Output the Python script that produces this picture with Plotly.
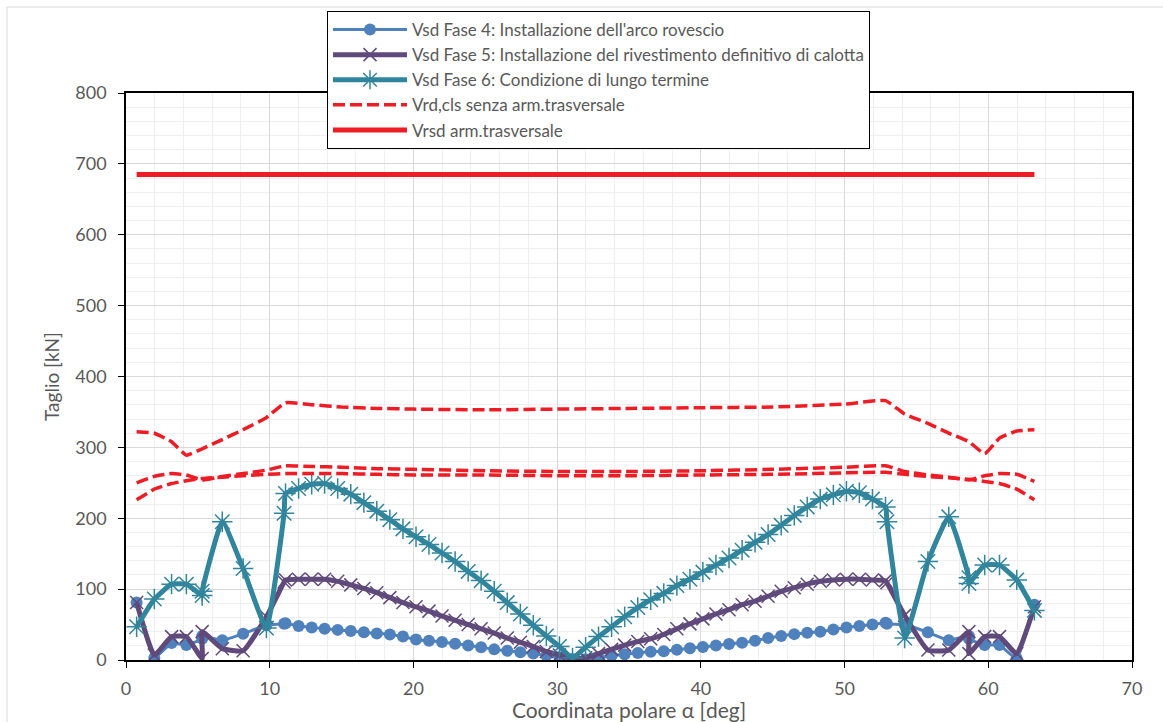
import plotly.graph_objects as go

# ---------------- data ----------------
alpha = [0.74, 1.97, 3.17, 4.2, 5.3, 5.3, 6.7, 8.15, 9.77, 11.0,
         11.10, 12.01, 12.92, 13.82, 14.73, 15.64, 16.55, 17.45, 18.36, 19.27,
         20.18, 21.08, 21.99, 22.90, 23.81, 24.71, 25.62, 26.53, 27.44, 28.34,
         29.25, 30.16, 31.07, 31.98, 32.88, 33.79, 34.70, 35.61, 36.51, 37.42,
         38.33, 39.24, 40.14, 41.05, 41.96, 42.87, 43.77, 44.68, 45.59, 46.50,
         47.40, 48.31, 49.22, 50.13, 51.03, 51.94, 52.85,
         52.95, 54.18, 55.8, 57.25, 58.65, 58.65, 59.75, 60.78, 61.98, 63.21]

vsd_fase4 = [81, 3, 24, 21, 30, 34, 28, 37, 49, 51,
             52, 48, 46, 44, 42.5, 41, 39, 37.5, 36, 33,
             29, 27, 25.5, 23, 20.5, 18, 15, 13, 11, 9,
             6.5, 4, 1.5, 1, 3, 6, 8, 10, 11.5, 12.5,
             14.5, 16.5, 18.5, 20.5, 22.5, 24.5, 27, 31, 34, 36.5,
             38.5, 40, 43, 46, 48, 50, 52.5,
             51, 50, 39, 28, 34, 30, 21, 21, 2, 78]

vsd_fase5 = [81, 7, 33, 33, 2, 40, 16, 13, 61, 110,
             113, 114, 114, 114, 111, 106, 101, 95, 88, 81,
             75, 69, 62, 56, 50, 44, 38, 31, 25, 19,
             12, 7, 2, 3, 9, 15, 21, 26, 30, 36,
             44, 51, 58, 65, 71, 78, 83, 90, 97, 102,
             107, 111, 113, 114, 114, 113, 112,
             109, 63, 14, 14, 40, 9, 33, 33, 9, 75]

vsd_fase6 = [47, 86, 107, 107, 91, 97, 195, 129, 45, 207,
             235, 242, 248, 249, 242, 234, 222, 210, 198, 185,
             174, 163, 151, 139, 125, 112, 97, 81, 65, 49,
             34, 19, 3, 18, 33, 47, 61, 74, 85, 94,
             105, 114, 124, 134, 144, 155, 166, 177, 190, 204,
             216, 227, 233, 238, 236, 227, 216,
             195, 31, 139, 202, 116, 108, 134, 134, 113, 70]

alpha_vrd = [0.74, 1.97, 3.17, 4.2, 5.3, 6.7, 8.15, 9.77, 11.1, 13, 15, 17.5, 20, 25,
             30, 35, 40, 45, 50, 52.85, 54.18, 55.8, 57.25, 58.65, 59.75, 60.78, 61.98, 63.21]
vrd_upper = [322, 320, 308, 289, 298, 311, 325, 342, 363, 360, 357, 355, 354, 353,
             354, 355, 356, 357, 361, 366, 347, 334, 320, 308, 291, 313, 323, 325]
vrd_mid = [250, 259, 263, 261, 254, 259, 263, 268, 274, 273, 272, 270, 269, 267,
           266, 266, 267, 269, 272, 274, 266, 261, 258, 254, 260, 263, 262, 252]
vrd_low = [226, 241, 249, 253, 256, 258, 260, 262, 263, 263, 263, 262, 261, 261,
           260, 260, 261, 262, 264, 265, 262, 259, 257, 255, 252, 249, 241, 226]

alpha_vrsd = [0.74, 63.21]
vrsd = [685, 685]

x_ticks = [0, 10, 20, 30, 40, 50, 60, 70]
y_ticks = [0, 100, 200, 300, 400, 500, 600, 700, 800]

# ---------------- styles ----------------
BLUE = "#4F81BD"
PURPLE = "#604A7B"
TEAL = "#31859C"
RED = "#EE1C25"
FONT = "Lato"
TXT = "#595959"
SMOOTH = 0.4

fig = go.Figure()

fig.add_trace(go.Scatter(
    x=alpha, y=vsd_fase4, mode="lines+markers",
    name="Vsd Fase 4: Installazione dell'arco rovescio",
    line=dict(color=BLUE, width=3, shape="spline", smoothing=SMOOTH),
    marker=dict(symbol="circle", size=12, color=BLUE),
    legendgroup="g1"))

fig.add_trace(go.Scatter(
    x=alpha, y=vsd_fase5, mode="lines+markers",
    name="Vsd Fase 5: Installazione del rivestimento definitivo di calotta",
    line=dict(color=PURPLE, width=5, shape="spline", smoothing=SMOOTH),
    marker=dict(symbol="x-thin", size=13, color=PURPLE,
                line=dict(color=PURPLE, width=1.5)),
    legendgroup="g2"))

fig.add_trace(go.Scatter(
    x=alpha, y=vsd_fase6, mode="lines+markers",
    name="Vsd Fase 6: Condizione di lungo termine",
    line=dict(color=TEAL, width=5, shape="spline", smoothing=SMOOTH),
    marker=dict(symbol="asterisk-open", size=17, color=TEAL,
                line=dict(color=TEAL, width=1.5)),
    legendgroup="g3"))

for i, yv in enumerate([vrd_upper, vrd_mid, vrd_low]):
    fig.add_trace(go.Scatter(
        x=alpha_vrd, y=yv, mode="lines",
        name="Vrd,cls senza arm.trasversale",
        line=dict(color=RED, width=3.5, dash="12px,5px", shape="spline", smoothing=SMOOTH),
        legendgroup="g4", showlegend=(i == 0)))

fig.add_trace(go.Scatter(
    x=alpha_vrsd, y=vrsd, mode="lines",
    name="Vrsd arm.trasversale",
    line=dict(color=RED, width=5),
    legendgroup="g5"))

W, H = 1163, 722
L, R, T, B = 126, 31, 93, 62
pw, ph = W - L - R, H - T - B

fig.update_layout(
    width=W, height=H,
    margin=dict(l=L, r=R, t=T, b=B, autoexpand=False),
    paper_bgcolor="white", plot_bgcolor="white",
    font=dict(family=FONT, color=TXT, size=18),
    showlegend=True,
    legend=dict(
        x=(327 - L) / pw, y=(H - B - 11) / ph, xanchor="left", yanchor="top",
        bgcolor="white", bordercolor="black", borderwidth=1,
        font=dict(family=FONT, size=17, color=TXT),
        tracegroupgap=3.5, itemwidth=74, traceorder="normal"),
    shapes=[dict(type="rect", xref="paper", yref="paper",
                 x0=(7 - L) / pw, x1=1.3, y0=-0.5, y1=(H - B - 7) / ph,
                 line=dict(color="#D9D9D9", width=1), fillcolor="rgba(0,0,0,0)",
                 layer="below")],
)

fig.update_xaxes(
    range=[0, 70], tickvals=x_ticks, ticktext=[str(v) for v in x_ticks],
    showline=True, linecolor="black", linewidth=1.5, mirror=True,
    ticks="outside", ticklen=6, tickcolor="black", ticklabelstandoff=6,
    showgrid=True, gridcolor="#D9D9D9", gridwidth=1,
    minor=dict(dtick=2, showgrid=True, gridcolor="#EFEFEF", ticks=""),
    zeroline=False, automargin=False,
    tickfont=dict(family=FONT, size=18, color=TXT),
    title=dict(text="Coordinata polare α [deg]", standoff=13,
               font=dict(family=FONT, size=21, color=TXT)),
)
fig.update_yaxes(
    range=[0, 800], tickvals=y_ticks, ticktext=[str(v) for v in y_ticks],
    showline=True, linecolor="black", linewidth=1.5, mirror=True,
    ticks="outside", ticklen=6, tickcolor="black", ticklabelstandoff=8,
    showgrid=True, gridcolor="#D9D9D9", gridwidth=1,
    minor=dict(dtick=20, showgrid=True, gridcolor="#EFEFEF", ticks=""),
    zeroline=False, automargin=False,
    tickfont=dict(family=FONT, size=18, color=TXT),
    title=dict(text="Taglio [kN]", standoff=11,
               font=dict(family=FONT, size=19, color=TXT)),
)

fig.write_html("out.html")
